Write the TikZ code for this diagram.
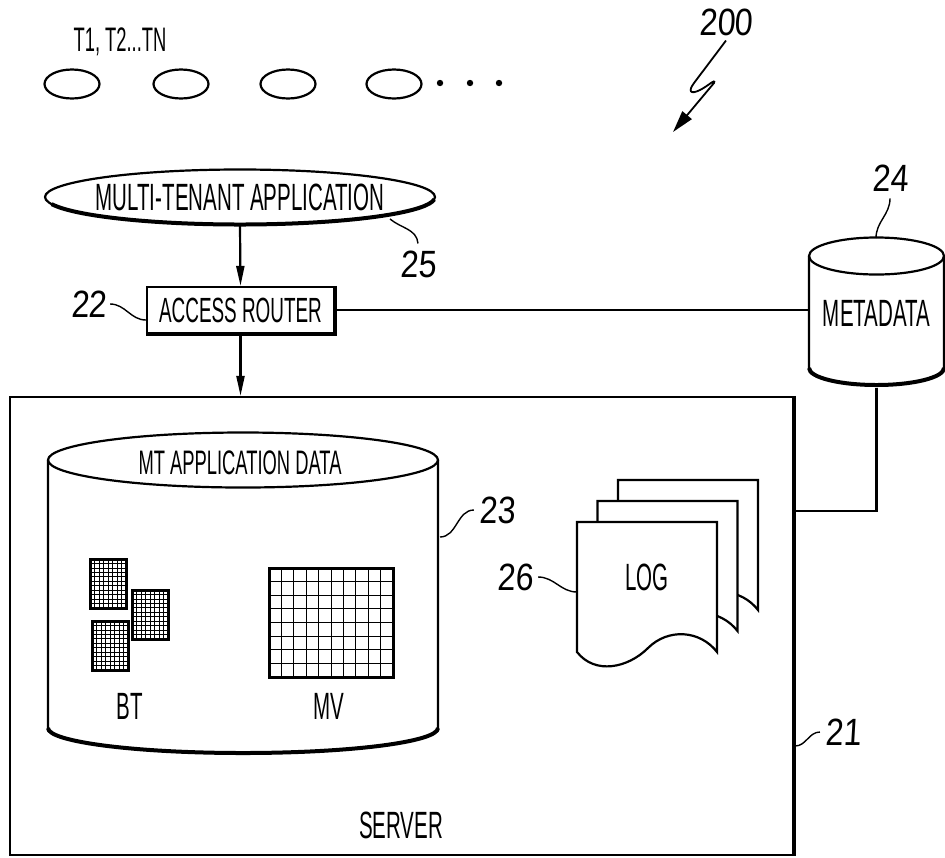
\documentclass[tikz,border=0pt]{standalone}
\usepackage{fontspec}
\setmainfont{Liberation Sans}[FakeStretch=0.54]
\newfontfamily\numfont{Liberation Sans}[FakeStretch=0.85,FakeSlant=0.06]
\usetikzlibrary{positioning, arrows.meta, calc, shapes.geometric}

\tikzset{
  every node/.style={inner sep=0pt},
  txt/.style={font=\fontsize{#1}{#1}\selectfont},
  txt/.default=19,
  num/.style={font=\numfont\fontsize{19}{19}\selectfont},
  heavy/.style={line width=2pt},
  leader/.style={line width=0.7pt},
  gridline/.style={line width=0.4pt},
  frame/.style={line width=1.5pt},
  tenant/.style={draw, ellipse, minimum width=27.5pt, minimum height=14.5pt},
}

\begin{document}
\begin{tikzpicture}[x=0.5pt, y=-0.5pt, line width=1.1pt,
  >={Triangle[length=10pt,width=4pt]}]
\useasboundingbox (0,0) rectangle (945,857);

% --- Tenants ---
\node[txt=17] (tlist) at (120,42) {T1, T2...TN};
\foreach \x [count=\i] in {72,181,288,394}
  \node[tenant] (t\i) at (\x,84) {};
\foreach \x in {440,470,499}
  \fill (\x,83) circle (1.6pt);

% --- Figure number ---
\node[num] (n200) at (726,22) {200};
\coordinate (bolt) at (673,132);
\draw[-{Triangle[length=11pt,width=6pt]}, line width=0.9pt]
  ([yshift=-2pt]n200.south) -- (694,83)
  .. controls (688,91) and (690,95) .. (700,90)
  .. controls (708,86) and (716,78) .. (714,83) -- (bolt);

% --- Multi-tenant application and access router ---
\node[ellipse, minimum width=195pt, minimum height=27.5pt, txt]
  (mta) at (240,197) {MULTI-TENANT APPLICATION};
\draw (mta.center) ellipse [x radius=97.5pt, y radius=13.75pt];
\draw[heavy] ([shift={(195:97.5pt and 13.75pt)}]mta.center)
  arc[start angle=195, end angle=355, x radius=97.5pt, y radius=13.75pt];
\node[draw, rectangle, minimum width=93.5pt, minimum height=23pt, txt=17.5]
  (router) at (240.5,310) {ACCESS ROUTER};
\draw[heavy] (router.north east) -- (router.south east) -- (router.south west);

% --- Server ---
\node[draw, minimum width=391.5pt, minimum height=229pt] (server) at (401.5,626) {};
\draw[heavy] (server.north east) -- (server.south east);
\node[txt] (srvlbl) at (401,825) {SERVER};

\draw[->] (mta.south) -- (router.north);
\draw[->] (router.south) -- (router.south |- server.north);

% --- Metadata store ---
\node[txt, minimum width=67.5pt, minimum height=73.5pt] (meta) at (876.5,313) {METADATA};
\draw (809,256) -- (809,368)
  arc[start angle=180, end angle=360, x radius=33.75pt, y radius=8.5pt] -- (944,256);
\draw[heavy] (809,368)
  arc[start angle=180, end angle=360, x radius=33.75pt, y radius=8.5pt];
\draw (876.5,256) ellipse [x radius=33.75pt, y radius=9.25pt];

\coordinate (srvport) at (793,511);
\draw (router.east) -- (router.east -| meta.west);
\draw (meta.south) |- (srvport);

% --- MT application data ---
\node[minimum width=195pt, minimum height=160pt] (mtdata) at (243,593) {};
\draw (48,460) -- (48,728)
  arc[start angle=180, end angle=360, x radius=97.5pt, y radius=12.5pt] -- (438,460);
\draw[heavy] (48,728)
  arc[start angle=180, end angle=360, x radius=97.5pt, y radius=12.5pt];
\draw (243,460) ellipse [x radius=97.5pt, y radius=13.75pt];
\node[txt=17] (mtlbl) at (240,463) {MT APPLICATION DATA};

% base tables
\foreach \bx/\by in {90/559, 132/590, 92/621} {
  \foreach \i in {1,...,7}
    \draw[gridline] (\bx+\i*4.5,\by) -- (\bx+\i*4.5,\by+49);
  \foreach \j in {1,...,10}
    \draw[gridline] (\bx,\by+\j*4.45) -- (\bx+36,\by+\j*4.45);
  \draw[frame] (\bx,\by) rectangle (\bx+36,\by+49);
}
\node[txt] (btlbl) at (130,706) {BT};

% materialized view
\foreach \i in {1,...,9}
  \draw[gridline] (269+\i*12.4,568) -- (269+\i*12.4,677);
\foreach \j in {1,...,7}
  \draw[gridline] (269,568+\j*13.625) -- (393,568+\j*13.625);
\draw[frame] (269,568) rectangle (393,677);
\node[txt] (mvlbl) at (329,706) {MV};

% --- Log pages ---
\foreach \d in {2,1,0} {
  \begin{scope}[shift={(20.5*\d,-21*\d)}]
    \filldraw[fill=white] (577,522) -- (717,522) -- (717,652)
      .. controls (700,630) and (668,628) .. (648,648)
      .. controls (628,668) and (595,675) .. (577,652) -- cycle;
  \end{scope}
}
\node[txt] (log) at (647,577) {LOG};

% --- Reference numerals ---
\node[num] (n22) at (89,304) {22};
\draw[leader] ([xshift=1pt]n22.east) to[out=0,in=180] ($(router.west)+(0,10)$);

\coordinate (mtaedge) at (390,219);
\node[num] (n25) at (418,264) {25};
\draw[leader] (mtaedge) to[out=-40,in=95] ([yshift=3pt]n25.north);

\coordinate (metatop) at (876,238);
\node[num] (n24) at (890,178) {24};
\draw[leader] ([yshift=-3pt]n24.south) to[out=-90,in=90] (metatop);

\coordinate (mtedge) at (440,537);
\node[num] (n23) at (497,510) {23};
\draw[leader] ([xshift=-2pt]n23.west) to[out=180,in=0] (mtedge);

\coordinate (logedge) at (577,592);
\node[num] (n26) at (515,577) {26};
\draw[leader] ([xshift=2pt]n26.east) to[out=0,in=180] (logedge);

\coordinate (srvedge) at (795,746);
\node[num] (n21) at (843,732) {21};
\draw[leader] ([xshift=-2pt]n21.west) to[out=180,in=0] (srvedge);

\end{tikzpicture}
\end{document}
